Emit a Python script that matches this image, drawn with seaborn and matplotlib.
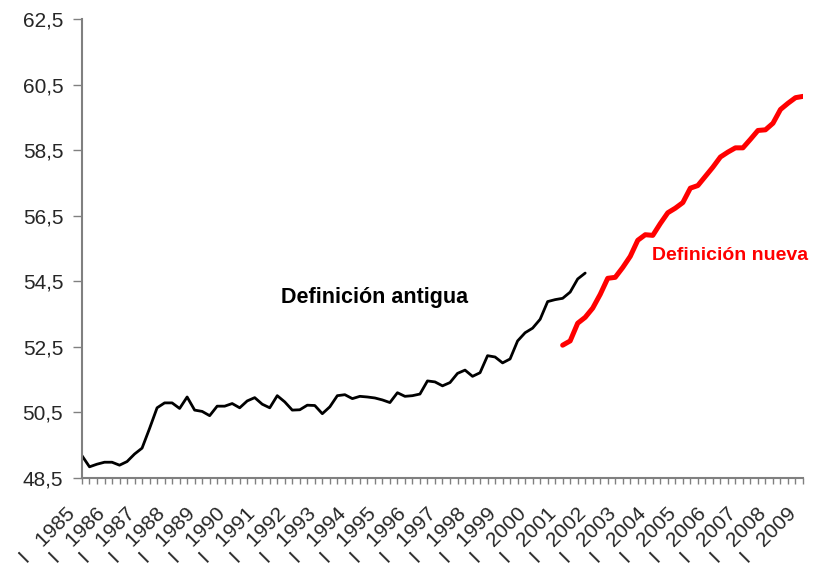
import numpy as np
import pandas as pd
import matplotlib
matplotlib.use("Agg")
import matplotlib.pyplot as plt
import seaborn as sns

# Quarterly series, 1985 Q1 - 2009 Q1
years = list(range(1985, 2010))
y_ticks = [48.5, 50.5, 52.5, 54.5, 56.5, 58.5, 60.5, 62.5]

# old definition: 1985 Q1 - 2001 Q4
antigua = [49.18, 48.84, 48.92, 48.98, 48.98, 48.89, 49.00, 49.23, 49.41, 50.01,
           50.64, 50.79, 50.79, 50.62, 50.97, 50.57, 50.53, 50.40, 50.69, 50.69,
           50.77, 50.64, 50.85, 50.95, 50.75, 50.64, 51.01, 50.82, 50.57, 50.58,
           50.72, 50.71, 50.46, 50.67, 51.01, 51.04, 50.92, 50.99, 50.97, 50.94,
           50.88, 50.80, 51.10, 50.99, 51.01, 51.06, 51.46, 51.43, 51.31, 51.41,
           51.69, 51.79, 51.60, 51.71, 52.23, 52.19, 52.01, 52.13, 52.68, 52.93,
           53.07, 53.34, 53.88, 53.94, 53.98, 54.17, 54.57, 54.75]

# new definition: 2001 Q1 - 2009 Q1
nueva = [52.55, 52.68, 53.22, 53.40, 53.68, 54.10, 54.59, 54.62, 54.92, 55.26,
         55.75, 55.92, 55.90, 56.26, 56.59, 56.73, 56.90, 57.34, 57.42, 57.70,
         57.98, 58.29, 58.44, 58.57, 58.57, 58.83, 59.10, 59.12, 59.32, 59.74,
         59.93, 60.10, 60.14]

quarters = pd.period_range("1985Q1", "2009Q1", freq="Q")
df = pd.DataFrame({"q": np.arange(len(quarters))}, index=quarters)
df["antigua"] = pd.Series(antigua, index=pd.period_range("1985Q1", periods=len(antigua), freq="Q"))
df["nueva"] = pd.Series(nueva, index=pd.period_range("2001Q1", periods=len(nueva), freq="Q"))

sns.set_style("white")
plt.rcParams["font.family"] = ["Liberation Sans", "DejaVu Sans"]

fig = plt.figure(figsize=(8.23, 5.69), dpi=100)
ax = fig.add_axes([0.0996, 0.16, 0.8761, 0.8066])

sns.lineplot(data=df, x="q", y="antigua", color="black", linewidth=2.0, ax=ax)
sns.lineplot(data=df, x="q", y="nueva", color="#ff0000", linewidth=3.6, ax=ax)

ax.text(39.0, 54.0, "Definición antigua", fontsize=15.5, fontweight="bold",
        color="black", ha="center", va="center")
ax.text(86.3, 55.3, "Definición nueva", fontsize=14, fontweight="bold",
        color="#ff0000", ha="center", va="center")

ax.set_xlim(0, len(quarters) - 1)
ax.set_ylim(48.5, 62.5)
ax.set_yticks(y_ticks)
ax.set_yticklabels([f"{v:.1f}".replace(".", ",") for v in y_ticks], fontsize=15)

# year labels on Q1, with the quarter numeral in front
xlabels = []
for p in quarters:
    xlabels.append(f"I   {p.year}    " if p.quarter == 1 else "")
ax.set_xticks(df["q"])
ax.set_xticklabels(xlabels, rotation=45, ha="right", rotation_mode="anchor", fontsize=15)

ax.set_xlabel("")
ax.set_ylabel("")
for s in ["top", "right"]:
    ax.spines[s].set_visible(False)
for s in ["left", "bottom"]:
    ax.spines[s].set_color("#808080")
    ax.spines[s].set_linewidth(1.5)
ax.tick_params(axis="y", direction="out", length=6.5, width=1, color="#808080", pad=7, left=True)
ax.tick_params(axis="x", direction="out", length=4.3, width=1, color="#808080", pad=3, bottom=True)

fig.savefig("out.png", dpi=100)
